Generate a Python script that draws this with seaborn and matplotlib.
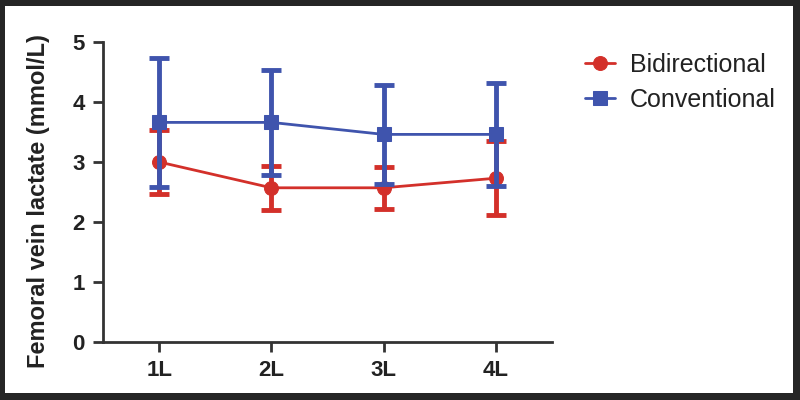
import matplotlib
matplotlib.use("Agg")
import matplotlib.pyplot as plt
import seaborn as sns
import pandas as pd
from matplotlib.patches import Rectangle

categories = ["1L", "2L", "3L", "4L"]
bidirectional_mean = [3.00, 2.57, 2.57, 2.73]
bidirectional_sd = [0.53, 0.37, 0.35, 0.62]
conventional_mean = [3.66, 3.66, 3.46, 3.46]
conventional_sd = [1.07, 0.88, 0.82, 0.86]
y_ticks = [0, 1, 2, 3, 4, 5]

RED = "#d3302a"
BLUE = "#3f54ad"

sns.set_theme(style="ticks")
plt.rcParams["font.family"] = ["Liberation Sans", "DejaVu Sans"]

fig = plt.figure(figsize=(8, 4), dpi=100)
fig.patch.set_facecolor("#262626")
fig.patches.append(Rectangle((5/800, 7/400), 788/800, 387/400, transform=fig.transFigure,
                             facecolor="white", edgecolor="none", zorder=-10))
ax = fig.add_axes([103/800, 58/400, 449/800, 300/400])
ax.set_facecolor("white")

x = list(range(len(categories)))
df = pd.DataFrame({
    "x": x * 2,
    "value": bidirectional_mean + conventional_mean,
    "group": ["Bidirectional"] * 4 + ["Conventional"] * 4,
})

series = [("Bidirectional", bidirectional_mean, bidirectional_sd, RED, "o"),
          ("Conventional", conventional_mean, conventional_sd, BLUE, "s")]
for i, (name, m, sd, col, mk) in enumerate(series):
    ax.errorbar(x, m, yerr=sd, fmt="none", ecolor=col, elinewidth=3.5,
                capsize=7, capthick=3.5, zorder=2 + 2 * i)
    sub = df[df["group"] == name]
    sns.lineplot(data=sub, x="x", y="value", color=col, marker=mk, markersize=10,
                 markeredgecolor=col, linewidth=2, ax=ax, label=name, zorder=3 + 2 * i)

ax.set_xlim(-0.5, 3.5)
ax.set_ylim(0, 5)
ax.set_xticks(x)
ax.set_xticklabels(categories)
ax.set_yticks(y_ticks)
ax.set_xlabel("")
ax.set_ylabel("Femoral vein lactate (mmol/L)", fontsize=17, fontweight="bold", color="#222222", labelpad=12)
ax.yaxis.set_label_coords(-0.118, 0.47)
for lab in ax.get_xticklabels() + ax.get_yticklabels():
    lab.set_fontweight("bold")
    lab.set_fontsize(16)
    lab.set_color("#222222")
ax.tick_params(axis="both", length=7, width=2, color="#333333", pad=6)
sns.despine(ax=ax)
for sp in ["left", "bottom"]:
    ax.spines[sp].set_linewidth(2)
    ax.spines[sp].set_color("#333333")
ax.spines["left"].set_bounds(0, 5)

leg = ax.legend(loc="upper left", bbox_to_anchor=(1.051, 0.998), borderaxespad=0, frameon=False,
                fontsize=18, handlelength=1.2, labelspacing=0.45, handletextpad=0.6)
for t in leg.get_texts():
    t.set_color("#222222")

fig.savefig("out.png", dpi=100, facecolor=fig.get_facecolor())
